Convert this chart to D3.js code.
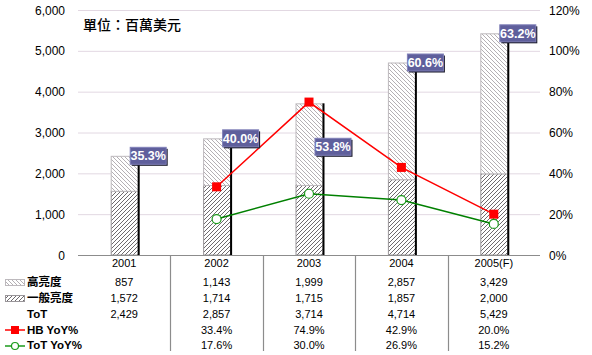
<!DOCTYPE html>
<html><head><meta charset="utf-8">
<script src="https://cdn.jsdelivr.net/npm/d3@7"></script>
<style>body{margin:0;background:#fff;}svg{display:block;font-family:Arial,"Liberation Sans",sans-serif;}</style>
</head><body><svg id="c" width="592" height="355"></svg>
<script>
const years = ["2001","2002","2003","2004","2005(F)"];
const highBright = [857,1143,1999,2857,3429];
const normalBright = [1572,1714,1715,1857,2000];
const totals = [2429,2857,3714,4714,5429];
const hbYoY = [null,33.4,74.9,42.9,20.0];
const totYoY = [null,17.6,30.0,26.9,15.2];
const shareLabels = ["35.3%","40.0%","53.8%","60.6%","63.2%"];
const labelValue = [2429,2857,2650,4714,5429];
const leftTicks = [0,1000,2000,3000,4000,5000,6000];
const rightTicks = [0,20,40,60,80,100,120];
const unitText = "單位：百萬美元";

const svg = d3.select("#c");
const x0 = 78, x1 = 540, yTop = 10, yBot = 255;
const x = d3.scaleBand().domain(years).range([x0,x1]);
const yL = d3.scaleLinear().domain([0,6000]).range([yBot,yTop]);
const yR = d3.scaleLinear().domain([0,120]).range([yBot,yTop]);
const fmt = d3.format(",");

const defs = svg.append("defs");
const p1 = defs.append("pattern").attr("id","hHigh").attr("patternUnits","userSpaceOnUse").attr("width",4).attr("height",4);
p1.append("rect").attr("width",4).attr("height",4).attr("fill","#fff");
p1.append("path").attr("d","M-1,-1 L5,5 M3,-1 L5,1 M-1,3 L1,5").attr("stroke","#b4b0b4").attr("stroke-width",1);
const p2 = defs.append("pattern").attr("id","hNorm").attr("patternUnits","userSpaceOnUse").attr("width",4).attr("height",4);
p2.append("rect").attr("width",4).attr("height",4).attr("fill","#fff");
p2.append("path").attr("d","M-1,5 L5,-1 M-1,1 L1,-1 M3,5 L5,3").attr("stroke","#6e6a6e").attr("stroke-width",1);

// gridlines
svg.append("g").selectAll("line").data(leftTicks.filter(d=>d>0)).join("line")
  .attr("x1",x0).attr("x2",x1).attr("y1",d=>yL(d)+0.5).attr("y2",d=>yL(d)+0.5)
  .attr("stroke","#e2d8e2").attr("stroke-width",1);

// left axis labels
svg.append("g").selectAll("text").data(leftTicks).join("text")
  .attr("x",65).attr("y",d=>yL(d)+4.5).attr("text-anchor","end").attr("font-size",12).text(d=>fmt(d));
// right axis labels
svg.append("g").selectAll("text").data(rightTicks).join("text")
  .attr("x",549).attr("y",d=>yR(d)+4.5).attr("text-anchor","start").attr("font-size",12).text(d=>d+"%");

svg.append("text").attr("x",83).attr("y",30).attr("font-size",14).attr("font-weight",500)
  .attr("font-family","'Noto Sans CJK TC','Noto Sans CJK SC',sans-serif").text(unitText);

const bw = 27;
const cx = d => x(d) + x.bandwidth()/2;
const bars = svg.append("g");
years.forEach((yr,i)=>{
  const bx = cx(yr) - bw/2;
  bars.append("rect").attr("x",bx+0.5).attr("y",yL(normalBright[i])+0.5).attr("width",bw)
    .attr("height",yL(0)-yL(normalBright[i])-0.5).attr("fill","url(#hNorm)").attr("stroke","#9a969a");
  bars.append("rect").attr("x",bx+0.5).attr("y",yL(totals[i])+0.5).attr("width",bw)
    .attr("height",yL(normalBright[i])-yL(totals[i])).attr("fill","url(#hHigh)").attr("stroke","#bdb9bd");
  bars.append("line").attr("x1",bx+bw+1).attr("x2",bx+bw+1).attr("y1",yL(0)).attr("y2",yL(totals[i]))
    .attr("stroke","#000").attr("stroke-width",2);
});

// axis line
svg.append("line").attr("x1",x0).attr("x2",x1).attr("y1",yBot+0.5).attr("y2",yBot+0.5).attr("stroke","#8c8c8c").attr("stroke-width",1.2);
// table dividers
svg.append("g").selectAll("line").data(years.slice(1)).join("line")
  .attr("x1",d=>Math.round(x(d))+0.5).attr("x2",d=>Math.round(x(d))+0.5).attr("y1",yBot).attr("y2",351)
  .attr("stroke","#8c8c8c").attr("stroke-width",1.2);

// lines
const lineGen = (arr)=>d3.line().defined(d=>d[1]!=null).x(d=>cx(d[0])).y(d=>yR(d[1]))(years.map((y,i)=>[y,arr[i]]));
svg.append("path").attr("d",lineGen(hbYoY)).attr("fill","none").attr("stroke","#ff0000").attr("stroke-width",1.5);
svg.append("path").attr("d",lineGen(totYoY)).attr("fill","none").attr("stroke","#008000").attr("stroke-width",1.5);
svg.append("g").selectAll("rect").data(years.map((y,i)=>[y,hbYoY[i]]).filter(d=>d[1]!=null)).join("rect")
  .attr("x",d=>cx(d[0])-4.5).attr("y",d=>yR(d[1])-4.5).attr("width",9).attr("height",9).attr("fill","#ff0000");
svg.append("g").selectAll("circle").data(years.map((y,i)=>[y,totYoY[i]]).filter(d=>d[1]!=null)).join("circle")
  .attr("cx",d=>cx(d[0])).attr("cy",d=>yR(d[1])).attr("r",4.5).attr("fill","#fff").attr("stroke","#1a9a1a").attr("stroke-width",1.2);

// share labels
const lab = svg.append("g");
years.forEach((yr,i)=>{
  const lx = cx(yr) + bw/2 - 8;
  const ly = yL(labelValue[i]) - 9;
  lab.append("rect").attr("x",lx+2).attr("y",ly+2).attr("width",36).attr("height",17).attr("fill","#1a1a2a");
  lab.append("rect").attr("x",lx+0.5).attr("y",ly+0.5).attr("width",36).attr("height",17).attr("fill","#5f5f9c").attr("stroke","#8080b8");
  lab.append("text").attr("x",lx+18.5).attr("y",ly+13.5).attr("text-anchor","middle").attr("font-size",12.5)
    .attr("font-weight","bold").attr("fill","#fff").text(shareLabels[i]);
});

// table
const rowY = [267,286,302,318,334,349];
const tbl = svg.append("g").attr("font-size",11);
years.forEach((yr,i)=>{
  tbl.append("text").attr("x",cx(yr)).attr("y",rowY[0]).attr("text-anchor","middle").text(yr);
  tbl.append("text").attr("x",cx(yr)).attr("y",rowY[1]).attr("text-anchor","middle").text(fmt(highBright[i]));
  tbl.append("text").attr("x",cx(yr)).attr("y",rowY[2]).attr("text-anchor","middle").text(fmt(normalBright[i]));
  tbl.append("text").attr("x",cx(yr)).attr("y",rowY[3]).attr("text-anchor","middle").text(fmt(totals[i]));
  if(hbYoY[i]!=null) tbl.append("text").attr("x",cx(yr)).attr("y",rowY[4]).attr("text-anchor","middle").text(hbYoY[i].toFixed(1)+"%");
  if(totYoY[i]!=null) tbl.append("text").attr("x",cx(yr)).attr("y",rowY[5]).attr("text-anchor","middle").text(totYoY[i].toFixed(1)+"%");
});

// legend
const leg = svg.append("g");
leg.append("rect").attr("x",5.5).attr("y",279.5).attr("width",19).attr("height",6).attr("fill","url(#hHigh)").attr("stroke","#bdb9bd");
leg.append("rect").attr("x",5.5).attr("y",295.5).attr("width",19).attr("height",6).attr("fill","url(#hNorm)").attr("stroke","#9a969a");
leg.append("line").attr("x1",5).attr("x2",25).attr("y1",330).attr("y2",330).attr("stroke","#ff0000").attr("stroke-width",1.5);
leg.append("rect").attr("x",11).attr("y",326).attr("width",8).attr("height",8).attr("fill","#ff0000");
leg.append("line").attr("x1",5).attr("x2",25).attr("y1",346).attr("y2",346).attr("stroke","#1a9a1a").attr("stroke-width",1.5);
leg.append("circle").attr("cx",15).attr("cy",346).attr("r",3.5).attr("fill","#fff").attr("stroke","#1a9a1a").attr("stroke-width",1.2);
const legLabels = ["高亮度","一般亮度","ToT","HB YoY%","ToT YoY%"];
leg.selectAll("text").data(legLabels).join("text")
  .attr("x",27).attr("y",(d,i)=>rowY[i+1]).attr("font-size",11.5).attr("font-weight","bold")
  .attr("font-family","Arial,'Liberation Sans','Noto Sans CJK TC',sans-serif").text(d=>d);
</script></body></html>
